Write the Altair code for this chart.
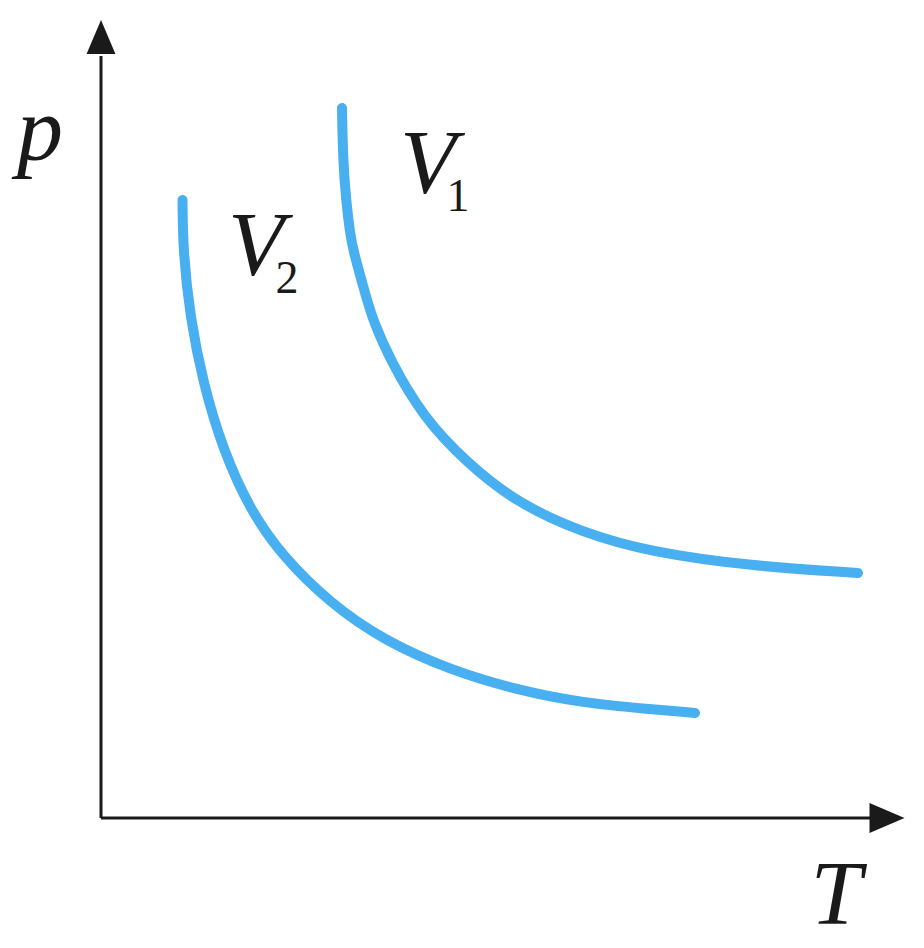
import altair as alt
import pandas as pd

# Isochores (arbitrary units: T horizontal, p vertical)
v1_T = [2.41, 2.42, 2.45, 2.49, 2.52, 2.66, 2.72, 2.89, 3.22, 3.66, 4.16, 4.82, 5.49, 6.49, 7.57]
v1_p = [7.10, 6.58, 6.18, 5.85, 5.68, 5.18, 4.98, 4.58, 4.01, 3.55, 3.15, 2.85, 2.66, 2.52, 2.45]
v2_T = [0.815, 0.82, 0.89, 1.02, 1.22, 1.49, 1.82, 2.29, 2.82, 3.49, 4.16, 4.82, 5.49, 5.94]
v2_p = [6.18, 5.68, 5.01, 4.35, 3.68, 3.08, 2.61, 2.15, 1.78, 1.48, 1.28, 1.15, 1.09, 1.05]

# Axis extents
y_axis_top = 7.62
x_axis_right = 7.75
y_arrow = (0.0, 7.81)
x_arrow = (7.86, 0.0)

xs = alt.Scale(domain=[-0.93, 8.15], nice=False, zero=False)
ys = alt.Scale(domain=[-1.22, 8.10], nice=False, zero=False)

SERIF = "Liberation Serif"

def X(f="T"):
    return alt.X(f"{f}:Q", scale=xs, axis=None)

def Y(f="p"):
    return alt.Y(f"{f}:Q", scale=ys, axis=None)

curves = pd.DataFrame(
    [{"T": t, "p": p, "s": "V1", "o": i} for i, (t, p) in enumerate(zip(v1_T, v1_p))]
    + [{"T": t, "p": p, "s": "V2", "o": i} for i, (t, p) in enumerate(zip(v2_T, v2_p))]
)

lines = alt.Chart(curves).mark_line(
    color="#48aff0", strokeWidth=10, strokeCap="round", interpolate="basis"
).encode(x=X(), y=Y(), detail="s:N", order="o:Q")

axes_df = pd.DataFrame([
    {"T": 0.0, "p": 0.0, "T2": 0.0, "p2": y_axis_top},
    {"T": 0.0, "p": 0.0, "T2": x_axis_right, "p2": 0.0},
])
axes = alt.Chart(axes_df).mark_rule(color="#1a1a1a", strokeWidth=3).encode(
    x=X(), y=Y(), x2="T2:Q", y2="p2:Q"
)

up_arrow = alt.Chart(pd.DataFrame([{"T": y_arrow[0], "p": y_arrow[1]}])).mark_point(
    shape="M0,-1L0.85,1L-0.85,1Z", size=1156, filled=True, color="#1a1a1a", opacity=1
).encode(x=X(), y=Y())

right_arrow = alt.Chart(pd.DataFrame([{"T": x_arrow[0], "p": x_arrow[1]}])).mark_point(
    shape="M1,0L-1,-0.86L-1,0.86Z", size=1225, filled=True, color="#1a1a1a", opacity=1
).encode(x=X(), y=Y())

italic_labels = pd.DataFrame([
    {"T": -0.61, "p": 6.58, "t": "p"},
    {"T": 3.27, "p": 6.25, "t": "V"},
    {"T": 1.55, "p": 5.43, "t": "V"},
    {"T": 7.35, "p": -1.06, "t": "T"},
])
sub_labels = pd.DataFrame([
    {"T": 3.57, "p": 6.07, "t": "1"},
    {"T": 1.86, "p": 5.25, "t": "2"},
])

italic_text = alt.Chart(italic_labels).mark_text(
    font=SERIF, fontStyle="italic", fontSize=92,
    color="#1a1a1a", align="center", baseline="alphabetic"
).encode(x=X(), y=Y(), text="t:N")

sub_text = alt.Chart(sub_labels).mark_text(
    font=SERIF, fontSize=46, color="#1a1a1a",
    align="center", baseline="alphabetic"
).encode(x=X(), y=Y(), text="t:N")

chart = alt.layer(axes, up_arrow, right_arrow, lines, italic_text, sub_text).properties(
    width=908, height=932, padding=0, autosize=alt.AutoSizeParams(type="none"),
    background="white"
).configure_view(stroke=None)

chart.save("out.html", embed_options={"renderer": "svg", "actions": False})
